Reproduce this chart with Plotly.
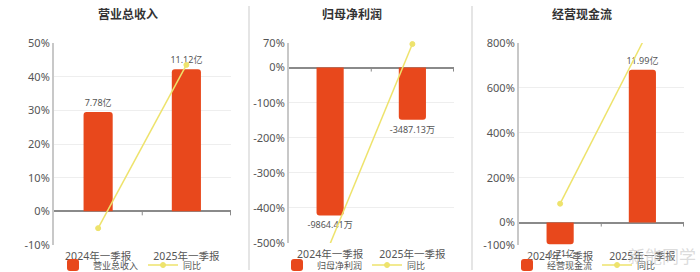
import plotly.graph_objects as go

# ---------------- data ----------------
categories = ["2024年一季报", "2025年一季报"]
titles = ["营业总收入", "归母净利润", "经营现金流"]

revenue = [7.78, 11.12]            # 亿
revenue_labels = ["7.78亿", "11.12亿"]
revenue_yoy = [-5.0, 43.5]         # %

profit = [-9864.41, -3487.13]      # 万
profit_labels = ["-9864.41万", "-3487.13万"]
profit_yoy = [-502.0, 67.0]        # %

cashflow = [-1.71, 11.99]          # 亿
cashflow_labels = ["-1.71亿", "11.99亿"]
cashflow_yoy = [84.0, 801.0]       # %

pct_ranges = [[-10, 50], [-500, 70], [-100, 800]]
pct_ticks = [[-10, 0, 10, 20, 30, 40, 50],
             [-500, -400, -300, -200, -100, 0, 70],
             [-100, 0, 200, 400, 600, 800]]
bar_scale = [0.2637, 23.4, 0.0176]   # bar units per percent point

bars = [revenue, profit, cashflow]
bar_texts = [revenue_labels, profit_labels, cashflow_labels]
yoys = [revenue_yoy, profit_yoy, cashflow_yoy]

# ---------------- style ----------------
W, H = 700, 272
FONT = "Noto Sans, Noto Sans CJK SC, sans-serif"
BAR_COLOR = "#E8481C"
LINE_COLOR = "#EEE36C"
x_domains_px = [(54, 231), (289, 454), (519, 684)]
y_domains_px = [(43, 245), (43, 243), (43, 245)]
title_x_px = [128, 352, 582]
legend_x_px = [130, 354, 584]
sep_x_px = [249, 472]

fig = go.Figure()
layout = dict(
    width=W, height=H, autosize=False,
    margin=dict(l=0, r=0, t=0, b=0, autoexpand=False),
    paper_bgcolor="white", plot_bgcolor="white",
    font=dict(family=FONT, color="#555"),
    barcornerradius=3,
    showlegend=True,
)

shapes = []
annotations = []

for i in range(3):
    xa = "x" if i == 0 else f"x{i+1}"
    yb = "y" if i == 0 else f"y{2*i+1}"      # bars (hidden)
    yp = f"y{2*i+2}"                          # percent axis
    xkey = "xaxis" if i == 0 else f"xaxis{i+1}"
    ybkey = "yaxis" if i == 0 else f"yaxis{2*i+1}"
    ypkey = f"yaxis{2*i+2}"
    lg = "legend" if i == 0 else f"legend{i+1}"

    x0, x1 = x_domains_px[i]
    ytop, ybot = y_domains_px[i]
    ydom = [1 - ybot / H, 1 - ytop / H]
    r = pct_ranges[i]
    k = bar_scale[i]

    fig.add_trace(go.Bar(
        x=categories, y=bars[i], name=titles[i],
        xaxis=xa, yaxis=yb, legend=lg,
        marker=dict(color=BAR_COLOR, line=dict(width=0)),
        width=0.33,
        text=bar_texts[i], textposition="outside", textangle=0,
        constraintext="none", cliponaxis=False,
        textfont=dict(size=9, color="#555", family=FONT),
        hoverinfo="skip",
    ))
    fig.add_trace(go.Scatter(
        x=categories, y=yoys[i], name="同比",
        xaxis=xa, yaxis=yp, legend=lg,
        mode="lines+markers", cliponaxis=False,
        line=dict(color=LINE_COLOR, width=1.5),
        marker=dict(size=5, color=LINE_COLOR, line=dict(color=LINE_COLOR, width=1)),
        hoverinfo="skip",
    ))

    layout[xkey] = dict(
        domain=[x0 / W, x1 / W], anchor=yb,
        type="category", showgrid=False, showline=False, zeroline=False,
        ticks="", ticklabelstandoff=3,
        tickfont=dict(size=10.5, color="#555", family=FONT),
        fixedrange=True, automargin=False,
    )
    layout[ybkey] = dict(
        domain=ydom, anchor=xa,
        range=[r[0] * k, r[1] * k],
        showgrid=False, zeroline=False, showline=False,
        showticklabels=False, ticks="", fixedrange=True, automargin=False,
    )
    layout[ypkey] = dict(
        domain=ydom, anchor=xa, overlaying=yb, side="left",
        range=r, tickvals=pct_ticks[i],
        ticktext=[f"{v}%" for v in pct_ticks[i]],
        tickfont=dict(size=11, color="#555", family=FONT),
        showgrid=True, gridcolor="#eeeeee", gridwidth=1,
        zeroline=True, zerolinecolor="#8a8a8a", zerolinewidth=2,
        showline=True, linecolor="#c8c8c8", linewidth=2,
        ticks="", ticklen=0, fixedrange=True, automargin=False,
    )
    layout[lg] = dict(
        orientation="h", x=legend_x_px[i] / W, xanchor="center",
        y=(H - 265) / H, yanchor="middle",
        font=dict(size=9, color="#555", family=FONT),
        itemwidth=30, bgcolor="rgba(0,0,0,0)", traceorder="normal",
        tracegroupgap=0, borderwidth=0,
    )

    annotations.append(dict(
        text=f"<b>{titles[i]}</b>", x=title_x_px[i] / W, y=1 - 14 / H,
        xref="paper", yref="paper", showarrow=False,
        xanchor="center", yanchor="middle",
        font=dict(size=12, color="#333", family=FONT),
    ))

    # small tick marks on the zero line at category boundaries
    for b in (0.5, 1.5):
        shapes.append(dict(
            type="line", xref=xa, yref=yp, x0=b, x1=b,
            ysizemode="pixel", yanchor=0, y0=0, y1=-4,
            line=dict(color="#8a8a8a", width=1),
        ))

for sx in sep_x_px:
    shapes.append(dict(
        type="line", xref="paper", yref="paper",
        x0=sx / W, x1=sx / W, y0=1 - 270 / H, y1=1 - 6 / H,
        line=dict(color="#dddddd", width=1.5),
    ))

# faint watermark
annotations.append(dict(
    text="新能同学", x=698 / W, y=1 - 256 / H, xref="paper", yref="paper",
    showarrow=False, xanchor="right", yanchor="middle",
    font=dict(size=17, color="rgba(190,190,190,0.55)", family=FONT),
))

layout["shapes"] = shapes
layout["annotations"] = annotations
fig.update_layout(**layout)

fig.write_html("out.html")
